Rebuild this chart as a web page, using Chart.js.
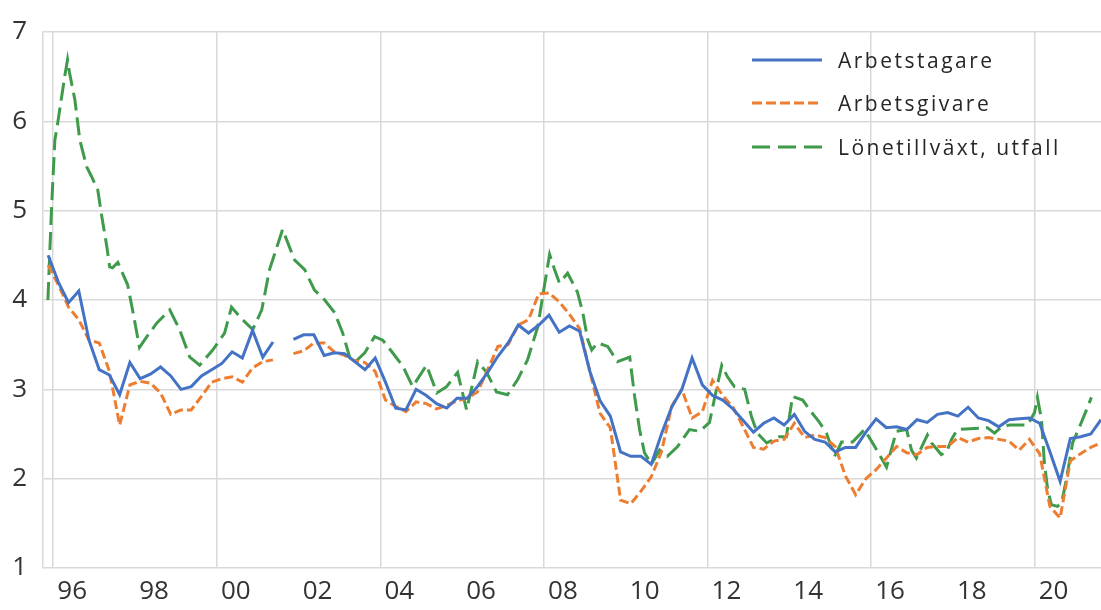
<!DOCTYPE html>
<html>
<head>
<meta charset="utf-8">
<script src="https://cdn.jsdelivr.net/npm/chart.js"></script>
<style>
  body { margin: 0; background: #fff; }
  #wrap { position: relative; width: 1101px; height: 610px; }
  .leg { position: absolute; left: 752px; height: 28px; display: flex; align-items: center;
         font-family: "Open Sans", sans-serif; font-size: 21px; letter-spacing: 2.5px; color: #262626; }
  .leg svg { width: 70px; height: 6px; margin-right: 16px; }
</style>
</head>
<body>
<div id="wrap">
  <canvas id="wageChart" width="1101" height="610"></canvas>
  <div class="leg" style="top:46px"><svg><line x1="0" y1="3" x2="70" y2="3" stroke="#4472c4" stroke-width="3"/></svg>Arbetstagare</div>
  <div class="leg" style="top:89px"><svg><line x1="0" y1="3" x2="70" y2="3" stroke="#ed7d31" stroke-width="3" stroke-dasharray="10 4"/></svg>Arbetsgivare</div>
  <div class="leg" style="top:133px"><svg><line x1="0" y1="3" x2="70" y2="3" stroke="#3f9b4b" stroke-width="3" stroke-dasharray="18 8"/></svg>Lönetillväxt, utfall</div>
</div>
<script>
// quarterly survey series start at 1995 Q4 (point in the middle of the quarter)
const quarterStart = 1995.875;

// Arbetstagare (blue, solid)
const arbetstagare = [
  4.50, 4.20, 3.97, 4.10, 3.55, 3.22, 3.16, 2.94, 3.30, 3.12,
  3.17, 3.25, 3.15, 3.00, 3.03, 3.15, 3.22, 3.29, 3.42, 3.35,
  3.66, 3.36, 3.53, null, 3.56, 3.61, 3.61, 3.38, 3.41, 3.40,
  3.31, 3.22, 3.35, 3.08, 2.79, 2.77, 3.00, 2.93, 2.84, 2.79,
  2.90, 2.90, 3.03, 3.19, 3.37, 3.52, 3.72, 3.63, 3.72, 3.83,
  3.64, 3.71, 3.65, 3.20, 2.87, 2.70, 2.30, 2.25, 2.25, 2.16,
  2.50, 2.80, 3.00, 3.35, 3.05, 2.93, 2.88, 2.78, 2.65, 2.52,
  2.62, 2.68, 2.60, 2.72, 2.53, 2.44, 2.41, 2.30, 2.35, 2.35,
  2.52, 2.67, 2.57, 2.58, 2.55, 2.66, 2.63, 2.72, 2.74, 2.70,
  2.80, 2.68, 2.65, 2.58, 2.66, 2.67, 2.68, 2.62, 2.30, 1.97,
  2.45, 2.47, 2.50, 2.66
];

// Arbetsgivare (orange, short dashes)
const arbetsgivare = [
  4.39, 4.17, 3.92, 3.78, 3.55, 3.52, 3.20, 2.60, 3.05, 3.09,
  3.07, 2.96, 2.72, 2.77, 2.77, 2.92, 3.08, 3.12, 3.14, 3.08,
  3.24, 3.31, 3.33, null, 3.40, 3.43, 3.52, 3.52, 3.42, 3.38,
  3.32, 3.30, 3.20, 2.88, 2.81, 2.75, 2.86, 2.84, 2.78, 2.82,
  2.87, 2.90, 2.97, 3.22, 3.48, 3.50, 3.72, 3.78, 4.07, 4.08,
  3.98, 3.84, 3.68, 3.20, 2.73, 2.57, 1.76, 1.72, 1.86, 2.02,
  2.30, 2.81, 3.00, 2.68, 2.75, 3.10, 2.93, 2.80, 2.58, 2.35,
  2.33, 2.42, 2.44, 2.62, 2.46, 2.49, 2.46, 2.36, 2.03, 1.82,
  2.00, 2.10, 2.23, 2.36, 2.29, 2.27, 2.35, 2.36, 2.36, 2.46,
  2.41, 2.45, 2.46, 2.44, 2.42, 2.32, 2.44, 2.28, 1.69, 1.56,
  2.20, 2.28, 2.35, 2.40
];

// Lönetillväxt, utfall (green, long dashes) - read at turning points
const utfallYears = [
  1995.87, 1995.96, 1996.04, 1996.11, 1996.28, 1996.35, 1996.40, 1996.53, 1996.65, 1996.82,
  1996.94, 1997.09, 1997.19, 1997.31, 1997.38, 1997.45, 1997.58, 1997.82, 1997.94, 1998.11,
  1998.29, 1998.53, 1998.85, 1999.09, 1999.34, 1999.58, 1999.90, 2000.19, 2000.36, 2000.63,
  2000.88, 2001.10, 2001.29, 2001.61, 2001.90, 2002.15, 2002.39, 2002.64, 2002.88, 2003.08,
  2003.25, 2003.37, 2003.62, 2003.86, 2004.06, 2004.30, 2004.55, 2004.79, 2005.13, 2005.38,
  2005.62, 2005.89, 2006.01, 2006.11, 2006.38, 2006.60, 2006.84, 2007.11, 2007.36, 2007.60,
  2007.85, 2007.97, 2008.14, 2008.26, 2008.38, 2008.58, 2008.82, 2008.95, 2009.07, 2009.17,
  2009.31, 2009.56, 2009.80, 2010.10, 2010.22, 2010.34, 2010.46, 2010.63, 2010.83, 2011.02,
  2011.27, 2011.56, 2011.81, 2012.05, 2012.22, 2012.35, 2012.49, 2012.66, 2012.91, 2013.08,
  2013.22, 2013.45, 2013.76, 2013.93, 2014.08, 2014.33, 2014.50, 2014.74, 2014.91, 2015.11,
  2015.28, 2015.55, 2015.84, 2016.09, 2016.38, 2016.62, 2016.87, 2016.99, 2017.11, 2017.38,
  2017.48, 2017.72, 2017.85, 2017.97, 2018.11, 2018.85, 2019.02, 2019.19, 2019.39, 2019.83,
  2020.00, 2020.07, 2020.17, 2020.24, 2020.32, 2020.41, 2020.56, 2020.66, 2020.73, 2020.85,
  2020.93, 2021.10, 2021.27, 2021.39
];
const utfallValues = [
  4.00, 5.04, 5.79, 5.98, 6.50, 6.69, 6.54, 6.24, 5.79, 5.49,
  5.38, 5.23, 4.93, 4.60, 4.37, 4.36, 4.42, 4.17, 3.89, 3.47,
  3.59, 3.74, 3.89, 3.67, 3.36, 3.27, 3.44, 3.63, 3.92, 3.78,
  3.67, 3.89, 4.34, 4.79, 4.45, 4.34, 4.11, 4.00, 3.86, 3.63,
  3.36, 3.30, 3.41, 3.59, 3.55, 3.41, 3.26, 3.03, 3.27, 2.96,
  3.03, 3.19, 2.96, 2.77, 3.31, 3.19, 2.97, 2.94, 3.11, 3.33,
  3.70, 4.04, 4.51, 4.34, 4.19, 4.30, 4.09, 3.86, 3.56, 3.44,
  3.52, 3.48, 3.31, 3.36, 2.92, 2.55, 2.29, 2.16, 2.32, 2.25,
  2.36, 2.55, 2.53, 2.63, 3.00, 3.27, 3.14, 3.03, 3.00, 2.69,
  2.51, 2.40, 2.47, 2.47, 2.92, 2.88, 2.77, 2.63, 2.51, 2.25,
  2.41, 2.41, 2.55, 2.36, 2.13, 2.53, 2.55, 2.32, 2.23, 2.49,
  2.40, 2.27, 2.30, 2.44, 2.55, 2.57, 2.51, 2.58, 2.60, 2.60,
  2.74, 2.91, 2.66, 2.18, 1.88, 1.71, 1.69, 1.73, 1.88, 2.18,
  2.40, 2.58, 2.77, 2.91
];

// axis ticks
const xTickYears = [1996, 1998, 2000, 2002, 2004, 2006, 2008, 2010, 2012, 2014, 2016, 2018, 2020];
const yMin = 1, yMax = 7;

const gridColor = '#d9d9d9';
const tickFont = { family: '"Open Sans", sans-serif', size: 26 };
const tickColor = '#333333';

function quarterly(values) {
    return values.map((v, i) => ({ x: quarterStart + i * 0.25, y: v }));
}

const ctx = document.getElementById('wageChart').getContext('2d');
const wageChart = new Chart(ctx, {
    type: 'line',
    data: {
        datasets: [
            {
                label: 'Lönetillväxt, utfall',
                data: utfallYears.map((yr, i) => ({ x: yr, y: utfallValues[i] })),
                borderColor: '#3f9b4b',
                borderWidth: 3,
                borderDash: [18, 7],
                pointRadius: 0,
                tension: 0,
                order: 3
            },
            {
                label: 'Arbetsgivare',
                data: quarterly(arbetsgivare),
                borderColor: '#ed7d31',
                borderWidth: 3,
                borderDash: [9, 4],
                pointRadius: 0,
                tension: 0,
                order: 2
            },
            {
                label: 'Arbetstagare',
                data: quarterly(arbetstagare),
                borderColor: '#4472c4',
                borderWidth: 3,
                pointRadius: 0,
                tension: 0,
                order: 1
            }
        ]
    },
    options: {
        responsive: false,
        animation: false,
        devicePixelRatio: 1,
        layout: { padding: { top: 32, right: 0, left: 0, bottom: 0 } },
        plugins: { legend: { display: false }, tooltip: { enabled: false } },
        scales: {
            x: {
                type: 'linear',
                min: 1995.75,
                max: 2021.625,
                afterBuildTicks: scale => { scale.ticks = xTickYears.map(v => ({ value: v })); },
                afterFit: scale => { scale.height = 42; },
                grid: {
                    color: c => (c.tick && c.tick.value % 4 === 0) ? gridColor : 'rgba(0,0,0,0)',
                    lineWidth: 1.5,
                    drawTicks: false
                },
                border: { display: false },
                ticks: {
                    autoSkip: false,
                    maxRotation: 0,
                    labelOffset: 19,
                    padding: 8,
                    font: tickFont,
                    color: tickColor,
                    callback: v => String(v).slice(2)
                }
            },
            y: {
                min: yMin,
                max: yMax,
                afterFit: scale => { scale.width = 43; },
                grid: { color: gridColor, lineWidth: 1.5, drawTicks: false },
                border: { display: true, color: gridColor, width: 1.5 },
                ticks: { stepSize: 1, padding: 16, font: tickFont, color: tickColor }
            }
        }
    }
});
</script>
</body>
</html>
